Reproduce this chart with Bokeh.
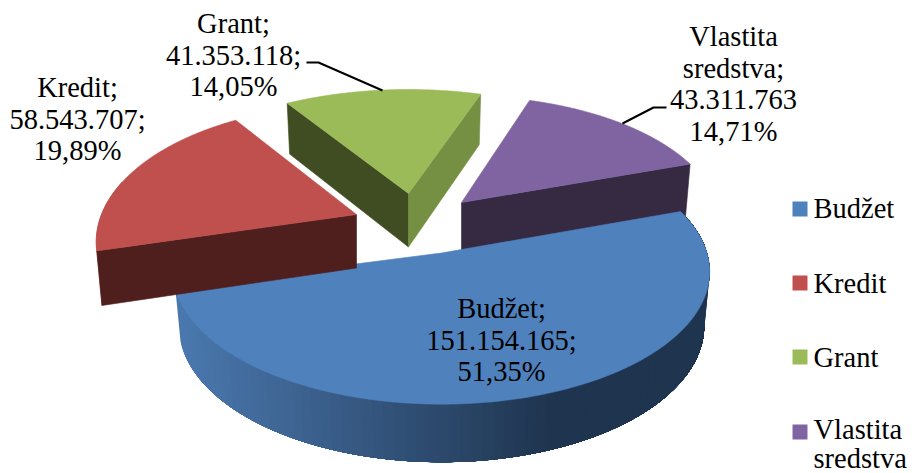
import numpy as np
from bokeh.core.properties import value
from bokeh.embed import file_html
from bokeh.models import ColumnDataSource, Range1d
from bokeh.plotting import figure
from bokeh.resources import INLINE

# ---- data ----
categories = ["Budžet", "Kredit", "Grant", "Vlastita sredstva"]
values = [151154165, 58543707, 41353118, 43311763]
label_lines = [
    ["Budžet;", "151.154.165;", "51,35%"],
    ["Kredit;", "58.543.707;", "19,89%"],
    ["Grant;", "41.353.118;", "14,05%"],
    ["Vlastita", "sredstva;", "43.311.763", "14,71%"],
]
legend_lines = [["Budžet"], ["Kredit"], ["Grant"], ["Vlastita", "sredstva"]]
colors = ["#4F81BD", "#C0504D", "#9BBB59", "#8064A2"]

# ---- layout of the 3-D projection ----
FONT = "Liberation Serif"
FS = "28.5px"
TEXT_DY = -9
START = [70.5, 70.0, 71.6, 71.0]
A = [265.5, 255.0, 262.0, 255.0]
B = [130.0, 132.0, 121.5, 124.5]
P = [0.14, 0.20, 0.168, 0.168]
DEPTH, SX, SY = 53.5, 0.98, 1.03
apex = [(441, 252.5), (356, 214), (408, 193), (461, 202)]
label_pos = [(501, 317), (77, 96), (233, 32), (733, 45)]
line_h = 31.5
legend_x, legend_text_x = 799.5, 813
legend_y = [208.5, 282.5, 356.5, 431.5]
legend_base = [217, 292, 366, 438]

total = sum(values)
fractions = np.concatenate([[0], np.cumsum(values)]) / total * 360.0


def ang(i, k):
    return START[i] + fractions[k]


def top(i, deg):
    t = np.radians(np.asarray(deg, dtype=float))
    u, v = np.sin(t), np.cos(t)
    w = 1 + P[i] * v
    return apex[i][0] + A[i] * u / w, apex[i][1] - B[i] * v / w


def bottom(i, deg):
    x, y = top(i, deg)
    return apex[i][0] + SX * (x - apex[i][0]), apex[i][1] + DEPTH + SY * (y - apex[i][1])


def wedge(i):
    x, y = top(i, np.linspace(ang(i, i), ang(i, i + 1), 200))
    return [apex[i][0], *x], [apex[i][1], *y]


def radial_wall(i, deg):
    x, y = top(i, deg)
    xb, yb = bottom(i, deg)
    return [apex[i][0], float(x), float(xb), apex[i][0]], [apex[i][1], float(y), float(yb), apex[i][1] + DEPTH]


def outer_wall(i, d0, d1, n=2):
    d = np.linspace(d0, d1, n)
    x, y = top(i, d)
    xb, yb = bottom(i, d)
    return [*x, *xb[::-1]], [*y, *yb[::-1]]


p = figure(width=915, height=473, output_backend="svg", toolbar_location=None,
           x_range=Range1d(0, 915), y_range=Range1d(473, 0), min_border=0,
           outline_line_color=None, background_fill_color="white", border_fill_color="white")
p.axis.visible = False
p.grid.visible = False
p.styles = {"position": "absolute", "left": "0px", "top": "0px"}


def poly(xy, color, lw=0.6):
    p.patch(xy[0], xy[1], fill_color=color, line_color=color if lw else None, line_width=lw or 1)


# Vlastita sredstva
poly(radial_wall(3, ang(3, 4)), "#352A41")
poly(wedge(3), colors[3])
# Grant
poly(radial_wall(2, ang(2, 2)), "#404C21")
poly(radial_wall(2, ang(2, 3)), "#758F43")
poly(wedge(2), colors[2])

# Budzet: outer wall, shaded from left to right; nested so no seams show
c0, c1 = np.array([0x4A, 0x78, 0xAE]), np.array([0x1F, 0x34, 0x4F])
edges = np.linspace(ang(0, 0), ang(0, 1), 90)
for d1 in edges[:0:-1]:
    xm = float(top(0, d1)[0])
    f = min(max((xm - 177) / (545 - 177), 0), 1)
    c = c0 + (c1 - c0) * f
    poly(outer_wall(0, edges[0], d1, 120), "#%02x%02x%02x" % tuple(int(round(k)) for k in c), 0)
poly(wedge(0), colors[0])

# Kredit
poly(outer_wall(1, ang(1, 1), ang(1, 1) + 30, 30), "#B04A47")
poly(radial_wall(1, ang(1, 1)), "#4F1F1E")
poly(wedge(1), colors[1])

# leader lines
p.line([306, 318, 382], [62, 62, 90], line_color="black", line_width=2)
p.line([622, 653, 666], [123, 107, 107], line_color="black", line_width=2)

# data labels
tx, ty, tt = [], [], []
for (lx, ly), lines in zip(label_pos, label_lines):
    for k, s in enumerate(lines):
        tx.append(lx)
        ty.append(ly + k * line_h + TEXT_DY)
        tt.append(s)
p.text(x="x", y="y", text="t", source=ColumnDataSource(dict(x=tx, y=ty, t=tt)),
       text_font=value(FONT), text_font_size=value(FS), text_color="black",
       text_align="center", text_baseline="alphabetic")

# legend
p.scatter(x=[legend_x] * 4, y=legend_y, marker="square", size=15, fill_color=colors, line_color=None)
lx, ly, lt = [], [], []
for base, lines in zip(legend_base, legend_lines):
    for k, s in enumerate(lines):
        lx.append(legend_text_x)
        ly.append(base + k * 29 + TEXT_DY)
        lt.append(s)
p.text(x="x", y="y", text="t", source=ColumnDataSource(dict(x=lx, y=ly, t=lt)),
       text_font=value(FONT), text_font_size=value(FS), text_color="black",
       text_align="left", text_baseline="alphabetic")

open("out.html", "w").write(file_html(p, INLINE))
